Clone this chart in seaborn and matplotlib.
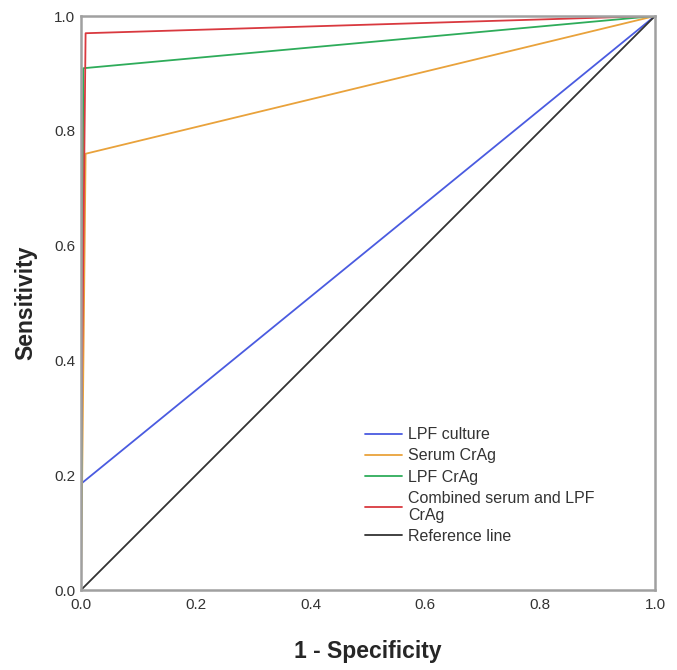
import matplotlib
matplotlib.use("Agg")
import matplotlib.pyplot as plt
import seaborn as sns
import pandas as pd

sns.set_style("white")
plt.rcParams['font.family'] = ['Liberation Sans', 'DejaVu Sans']

series = ["LPF culture", "Serum CrAg", "LPF CrAg", "Combined serum and LPF\nCrAg", "Reference line"]
colors = ["#4a5be0", "#e9a23b", "#2eac5a", "#d9393f", "#333333"]

lpf_culture_x = [0.0, 0.0, 1.0]
lpf_culture_y = [0.0, 0.185, 1.0]
serum_x = [0.0, 0.0, 0.008, 1.0]
serum_y = [0.0, 0.0, 0.76, 1.0]
lpf_crag_x = [0.0, 0.0, 0.004, 1.0]
lpf_crag_y = [0.0, 0.0, 0.909, 1.0]
combined_x = [0.0, 0.0, 0.008, 1.0]
combined_y = [0.0, 0.2, 0.97, 1.0]
ref_x = [0.0, 1.0]
ref_y = [0.0, 1.0]

xs = [lpf_culture_x, serum_x, lpf_crag_x, combined_x, ref_x]
ys = [lpf_culture_y, serum_y, lpf_crag_y, combined_y, ref_y]

rows = []
for name, x, y in zip(series, xs, ys):
    for i, (a, b) in enumerate(zip(x, y)):
        rows.append({"series": name, "x": a, "y": b, "order": i})
df = pd.DataFrame(rows)

fig = plt.figure(figsize=(6.77, 6.70), dpi=100)
ax = fig.add_axes([81/677, 80/670, 574/677, 574/670])

sns.lineplot(data=df, x="x", y="y", hue="series", hue_order=series,
             palette=dict(zip(series, colors)), sort=False, estimator=None,
             units="series", linewidth=1.3, ax=ax)

ax.set_xlim(0, 1)
ax.set_ylim(0, 1)
ticks = [0.0, 0.2, 0.4, 0.6, 0.8, 1.0]
ax.set_xticks(ticks)
ax.set_yticks(ticks)
ax.set_xticklabels([f"{t:.1f}" for t in ticks], fontsize=11, color="#333333")
ax.set_yticklabels([f"{t:.1f}" for t in ticks], fontsize=11, color="#333333")
ax.tick_params(axis="x", length=0, pad=6)
ax.tick_params(axis="y", length=0, pad=4)
for s in ax.spines.values():
    s.set_color("#a0a0a0")
    s.set_linewidth(1.8)

ax.set_xlabel("1 - Specificity", fontsize=16.5, fontweight="bold", labelpad=20)
ax.set_ylabel("Sensitivity", fontsize=16.5, fontweight="bold", labelpad=12)

leg = ax.legend(loc="lower left", bbox_to_anchor=(0.495, 0.08), frameon=False,
                fontsize=11.5, handlelength=2.3, handletextpad=0.4, labelspacing=0.38,
                borderpad=0.0, borderaxespad=0.0)
for t in leg.get_texts():
    t.set_color("#333333")
for line in leg.get_lines():
    line.set_linewidth(1.3)

fig.savefig("out.png", dpi=100, facecolor="white")
